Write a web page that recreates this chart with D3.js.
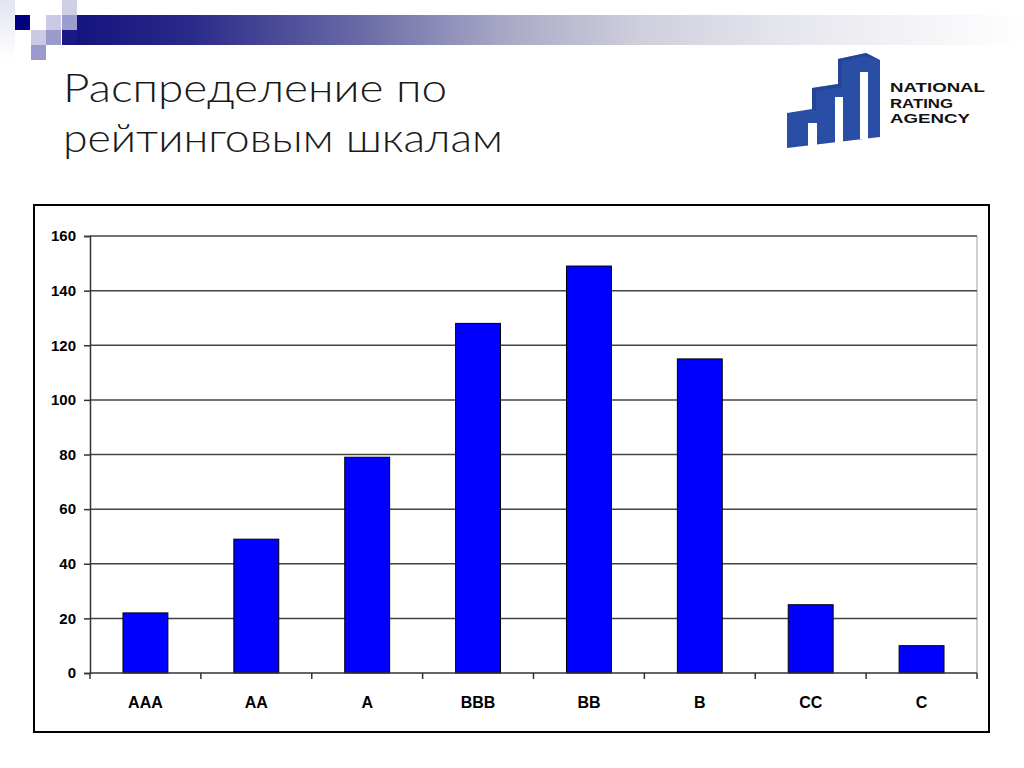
<!DOCTYPE html>
<html>
<head>
<meta charset="utf-8">
<script src="https://cdn.jsdelivr.net/npm/d3@7"></script>
<style>
  html, body { margin: 0; padding: 0; background: #ffffff; }
  svg { display: block; }
</style>
</head>
<body>
<script>
// ---- data ----
const categories = ["AAA", "AA", "A", "BBB", "BB", "B", "CC", "C"];
const counts = [22, 49, 79, 128, 149, 115, 25, 10];
const yTicks = [0, 20, 40, 60, 80, 100, 120, 140, 160];
const titleLines = ["Распределение по", "рейтинговым шкалам"];
const logoLines = ["NATIONAL", "RATING", "AGENCY"];

const W = 1024, H = 768;
const svg = d3.select("body").append("svg").attr("width", W).attr("height", H);
const defs = svg.append("defs");

// ---- top-left decoration ----
const grad = defs.append("linearGradient").attr("id", "barGrad")
  .attr("x1", "0%").attr("x2", "100%").attr("y1", "0%").attr("y2", "0%");
[["0%", "#14147e"], ["12%", "#2a2a8a"], ["30%", "#6a6aa6"], ["45%", "#a8a8c6"], ["60%", "#d0d0de"], ["75%", "#e6e6ee"], ["100%", "#ffffff"]]
  .forEach(([o, c]) => grad.append("stop").attr("offset", o).attr("stop-color", c));
const lgrad = defs.append("linearGradient").attr("id", "leftGrad")
  .attr("x1", "0%").attr("x2", "0%").attr("y1", "0%").attr("y2", "100%");
lgrad.append("stop").attr("offset", "0%").attr("stop-color", "#e4e4f2");
lgrad.append("stop").attr("offset", "100%").attr("stop-color", "#ffffff");

svg.append("rect").attr("x", 0).attr("y", 0).attr("width", 15).attr("height", 60).attr("fill", "url(#leftGrad)");
svg.append("rect").attr("x", 77).attr("y", 15).attr("width", W - 77).attr("height", 30).attr("fill", "url(#barGrad)");
const squares = [
  [62, 0, "#cfcfe6"],
  [15, 15, "#000080"],
  [46, 15, "#cacae4"],
  [62, 15, "#9c9cce"],
  [31, 30, "#cacae4"],
  [46, 30, "#9a9acc"],
  [62, 30, "#1a1a84"],
  [31, 45, "#9a9acc"]
];
svg.selectAll("rect.sq").data(squares).join("rect").attr("class", "sq")
  .attr("x", d => d[0]).attr("y", d => d[1]).attr("width", 15).attr("height", 15)
  .attr("fill", d => d[2]);

// ---- title ----
const titleWidths = [384, 440];
svg.append("text")
  .attr("font-family", "Lato, 'Noto Sans', 'DejaVu Sans', sans-serif")
  .attr("font-weight", 300)
  .attr("font-size", 39).attr("fill", "#1a1a1a")
  .selectAll("tspan").data(titleLines).join("tspan")
  .attr("x", 63).attr("y", (d, i) => 102 + i * 50)
  .attr("textLength", (d, i) => titleWidths[i]).attr("lengthAdjust", "spacingAndGlyphs")
  .text(d => d);

// ---- logo ----
const logo = svg.append("g");
logo.append("polygon")
  .attr("points", "787,113 812,109 812,88 838,84 838,59 866,53 880,60 880,137 787,148")
  .attr("fill", "#2a4ea6");
logo.append("polygon")
  .attr("points", "812,109 812,88 838,84 838,59 866,53 880,60 866,56 842,61 842,87 816,91 816,112")
  .attr("fill", "#1d3a8a").attr("opacity", 0.5);
[[808, 123, 9, 25], [835, 97, 8, 46], [860, 72, 8, 67]].forEach(r => {
  logo.append("rect").attr("x", r[0]).attr("y", r[1]).attr("width", r[2]).attr("height", r[3]).attr("fill", "#ffffff");
});
const logoWidths = [95, 63, 80];
logo.append("g").selectAll("text").data(logoLines).join("text")
  .attr("font-family", "'Liberation Sans', Arial, sans-serif")
  .attr("font-weight", "bold").attr("font-size", 13.5).attr("fill", "#111")
  .attr("x", 890).attr("y", (d, i) => 92 + i * 15.5)
  .attr("textLength", (d, i) => logoWidths[i]).attr("lengthAdjust", "spacingAndGlyphs")
  .text(d => d);

// ---- chart frame ----
svg.append("rect").attr("x", 34).attr("y", 205).attr("width", 955).attr("height", 527)
  .attr("fill", "none").attr("stroke", "#000").attr("stroke-width", 2);

const plot = { left: 90, right: 977, top: 236, bottom: 673 };
const x = d3.scaleBand().domain(categories).range([plot.left, plot.right]).paddingInner(0.595).paddingOuter(0.2975);
const y = d3.scaleLinear().domain([0, 160]).range([plot.bottom, plot.top]);

// right border of plot area
svg.append("line").attr("x1", plot.right).attr("x2", plot.right).attr("y1", plot.top).attr("y2", plot.bottom)
  .attr("stroke", "#a0a0a0").attr("stroke-width", 1);

// gridlines
svg.append("g").selectAll("line").data(yTicks.filter(t => t > 0)).join("line")
  .attr("x1", plot.left).attr("x2", plot.right)
  .attr("y1", d => y(d)).attr("y2", d => y(d))
  .attr("stroke", "#444").attr("stroke-width", 1.5);

// bars
svg.append("g").selectAll("rect").data(categories).join("rect")
  .attr("x", d => x(d)).attr("width", x.bandwidth())
  .attr("y", (d, i) => y(counts[i])).attr("height", (d, i) => y(0) - y(counts[i]))
  .attr("fill", "#0000ff").attr("stroke", "#000").attr("stroke-width", 1);

// y axis
const yAxis = svg.append("g").attr("transform", `translate(${plot.left},0)`)
  .call(d3.axisLeft(y).tickValues(yTicks).tickSize(6).tickPadding(8));
yAxis.select(".domain").attr("stroke", "#333").attr("stroke-width", 1.5);
yAxis.selectAll(".tick line").attr("stroke", "#333").attr("stroke-width", 1.5);
yAxis.selectAll("text")
  .attr("font-family", "'Liberation Sans', Arial, sans-serif")
  .attr("font-weight", "bold").attr("font-size", 15).attr("fill", "#000");

// x axis (ticks at category boundaries)
const xAxis = svg.append("g").attr("transform", `translate(0,${plot.bottom})`);
xAxis.append("line").attr("x1", plot.left).attr("x2", plot.right).attr("y1", 0).attr("y2", 0)
  .attr("stroke", "#333").attr("stroke-width", 1.5);
const step = x.step();
const boundaries = d3.range(categories.length + 1).map(i => plot.left + i * step);
xAxis.selectAll("line.bt").data(boundaries).join("line").attr("class", "bt")
  .attr("x1", d => d).attr("x2", d => d).attr("y1", 0).attr("y2", 6)
  .attr("stroke", "#333").attr("stroke-width", 1.5);
xAxis.selectAll("text").data(categories).join("text")
  .attr("x", d => x(d) + x.bandwidth() / 2).attr("y", 35)
  .attr("text-anchor", "middle")
  .attr("font-family", "'Liberation Sans', Arial, sans-serif")
  .attr("font-weight", "bold").attr("font-size", 16).attr("fill", "#000")
  .text(d => d);
</script>
</body>
</html>
